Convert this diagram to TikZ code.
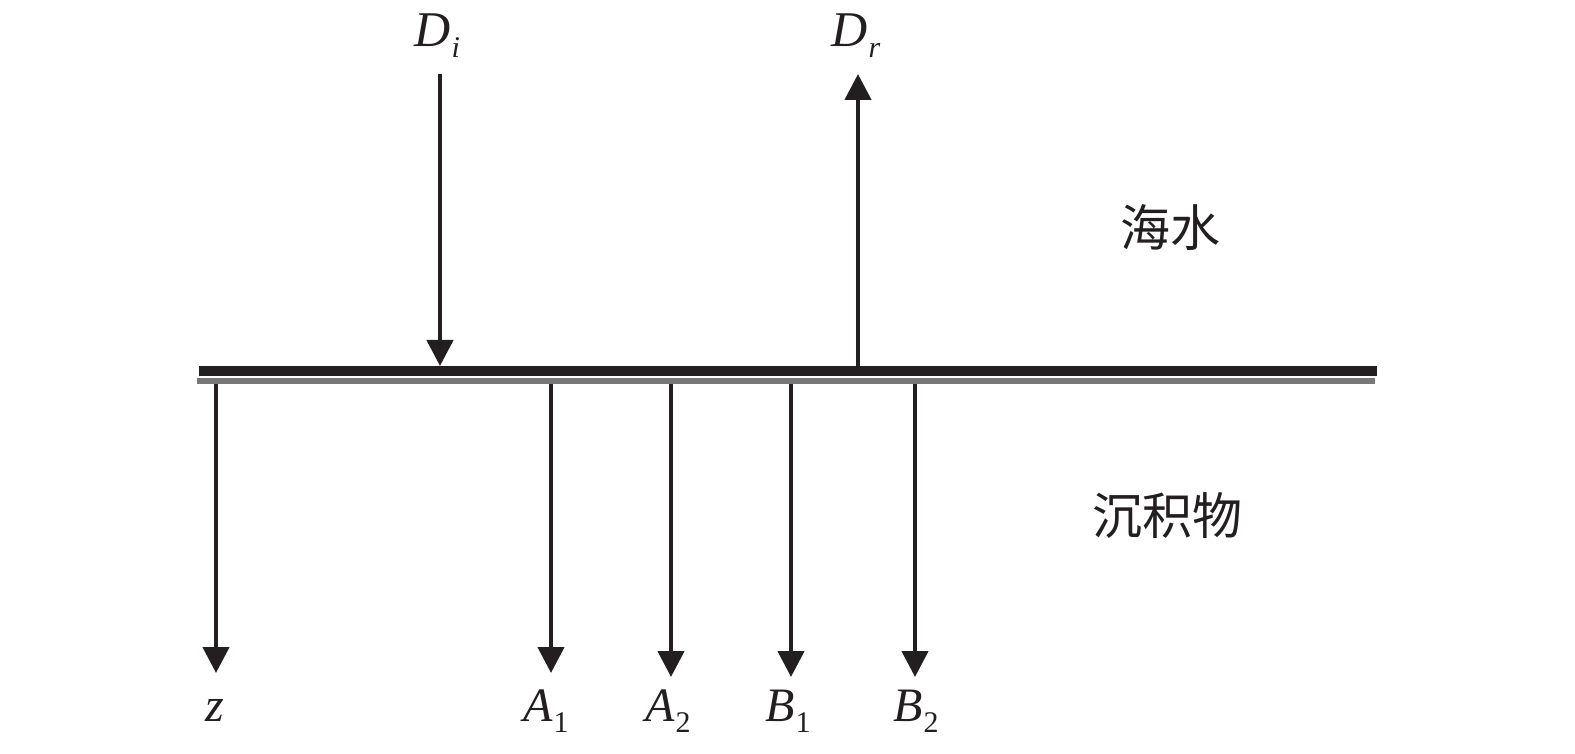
\documentclass[tikz,border=0pt]{standalone}
\usepackage{fontspec}
\setmainfont{Liberation Serif}
\newfontfamily\cjk{Noto Sans CJK SC}
\usetikzlibrary{arrows.meta}
\definecolor{ink}{HTML}{231F20}
\definecolor{sedgray}{HTML}{787878}
\tikzset{
  flux/.style={draw=ink, line width=2.2pt, -{Triangle[width=13pt,length=13pt]}},
  lab/.style={inner sep=0pt, text=ink, font=\fontsize{24}{24}\selectfont\itshape},
  toplab/.style={inner sep=0pt, text=ink, font=\fontsize{25}{25}\selectfont\itshape},
  zh/.style={inner sep=0pt, text=ink, font=\cjk\fontsize{25}{25}\selectfont},
}
\newcommand{\subi}[1]{\kern0.5pt\raisebox{-5.5pt}{\fontsize{15}{15}\selectfont #1}}
\begin{document}
\begin{tikzpicture}[x=0.5pt,y=-0.5pt]
\useasboundingbox (0,0) rectangle (1575,754);
% interface
\coordinate (bl) at (199,371);
\coordinate (br) at (1377,371);
\coordinate (gl) at (197,381);
\coordinate (gr) at (1375,381);
\draw[ink, line width=5pt] (bl) -- (br);
\draw[sedgray, line width=3pt] (gl) -- (gr);
% incident and reflected
\coordinate (di0) at (440,74);
\coordinate (di1) at (440,366);
\coordinate (dr0) at (858,366);
\coordinate (dr1) at (858,74);
\draw[flux] (di0) -- (di1);
\draw[flux] (dr0) -- (dr1);
\node[toplab, anchor=base west] (Di) at (414,47) {D\subi{i}};
\node[toplab, anchor=base west] (Dr) at (831,47) {D\subi{r}};
% downward arrows
\foreach \n/\x/\t in {z/216/673, a1/551/673, a2/671/677, b1/791/677, b2/915/677}{
  \coordinate (\n0) at (\x,384);
  \coordinate (\n1) at (\x,\t);
  \draw[flux] (\n0) -- (\n1);
}
\node[lab, anchor=base] (zl) at (215,721) {z};
\node[lab, anchor=base west] (A1) at (523,721) {A\subi{\upshape 1}};
\node[lab, anchor=base west] (A2) at (645,721) {A\subi{\upshape 2}};
\node[lab, anchor=base west] (B1) at (765,721) {B\subi{\upshape 1}};
\node[lab, anchor=base west] (B2) at (893,721) {B\subi{\upshape 2}};
% media
\node[zh] (sea) at (1170,228) {海水};
\node[zh] (sed) at (1167,516) {沉积物};
\end{tikzpicture}
\end{document}
